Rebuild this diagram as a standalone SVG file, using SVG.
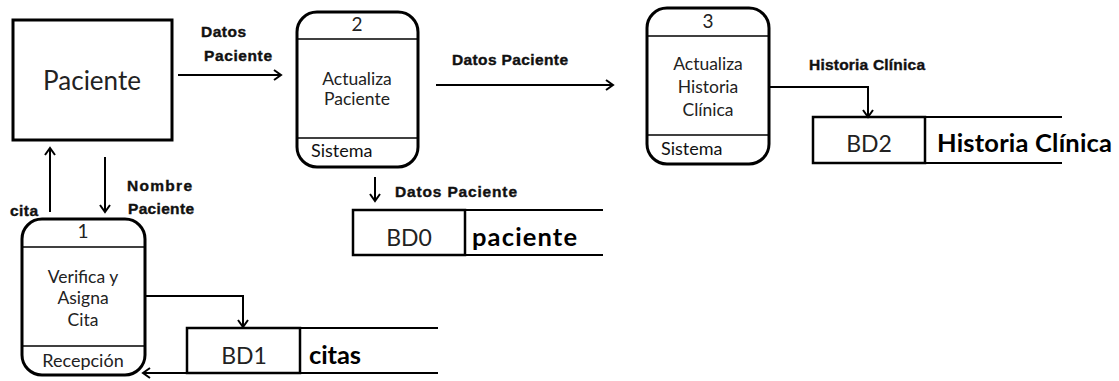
<svg xmlns="http://www.w3.org/2000/svg" width="1119" height="381" viewBox="0 0 1119 381">
<defs>
<style>
.box{fill:#fff;stroke:#000;stroke-width:3}
.thin{stroke:#000;stroke-width:1.3;fill:none}
.store{fill:#fff;stroke:#000;stroke-width:2.5}
.sline{stroke:#000;stroke-width:2;fill:none}
.flow{stroke:#000;stroke-width:2;fill:none;marker-end:url(#ah)}
.t{font-family:Lato,"Liberation Sans",sans-serif;fill:#222;text-anchor:middle}
.tl{font-family:Lato,"Liberation Sans",sans-serif;fill:#111}
.lbl{font-family:"Liberation Sans",Arial,sans-serif;font-weight:bold;font-size:15.5px;fill:#111;stroke:#111;stroke-width:0.4}
.sn{font-family:Lato,"Liberation Sans",sans-serif;font-weight:bold;fill:#000}
</style>
<marker id="ah" markerWidth="12" markerHeight="12" refX="9" refY="6" orient="auto" markerUnits="userSpaceOnUse">
<path d="M2,1 L9,6 L2,11" fill="none" stroke="#000" stroke-width="2"/>
</marker>
</defs>

<g id="paciente">
<rect class="box" x="13" y="20" width="159" height="120"/>
<text class="t" x="92" y="90" font-size="26">Paciente</text>
</g>

<g id="proceso1">
<rect class="box" x="22" y="219" width="123" height="156" rx="20"/>
<line class="thin" x1="22" y1="247" x2="145" y2="247"/>
<line class="thin" x1="22" y1="346" x2="145" y2="346"/>
<text class="t" x="83" y="238" font-size="19">1</text>
<text class="t" x="83" y="283" font-size="17.5">Verifica y</text>
<text class="t" x="83" y="304" font-size="17.5">Asigna</text>
<text class="t" x="83" y="326" font-size="17.5">Cita</text>
<text class="t" x="83" y="367" font-size="18">Recepción</text>
</g>

<g id="proceso2">
<rect class="box" x="297" y="12" width="121" height="155" rx="20"/>
<line class="thin" x1="297" y1="39" x2="418" y2="39"/>
<line class="thin" x1="297" y1="138" x2="418" y2="138"/>
<text class="t" x="357" y="31" font-size="19">2</text>
<text class="t" x="357" y="85" font-size="17.5">Actualiza</text>
<text class="t" x="357" y="105" font-size="17.5">Paciente</text>
<text class="tl" x="311" y="157" font-size="18">Sistema</text>
</g>

<g id="proceso3">
<rect class="box" x="647" y="8" width="122" height="156" rx="20"/>
<line class="thin" x1="647" y1="36" x2="769" y2="36"/>
<line class="thin" x1="647" y1="135" x2="769" y2="135"/>
<text class="t" x="708" y="28" font-size="19">3</text>
<text class="t" x="708" y="70" font-size="17.5">Actualiza</text>
<text class="t" x="708" y="93" font-size="17.5">Historia</text>
<text class="t" x="708" y="116" font-size="17.5">Clínica</text>
<text class="tl" x="661" y="155" font-size="18">Sistema</text>
</g>

<g id="bd0">
<line class="sline" x1="465" y1="210" x2="603" y2="210"/>
<line class="sline" x1="465" y1="255" x2="603" y2="255"/>
<rect class="store" x="353" y="210" width="112" height="45"/>
<text class="t" x="409" y="246" font-size="23">BD0</text>
<text class="sn" x="472" y="246" font-size="25.5" textLength="105">paciente</text>
</g>

<g id="bd1">
<line class="sline" x1="300" y1="328" x2="438" y2="328"/>
<rect class="store" x="187" y="328" width="113" height="45"/>
<text class="t" x="244" y="364" font-size="23">BD1</text>
<text class="sn" x="309" y="364" font-size="25.5" textLength="52">citas</text>
</g>

<g id="bd2">
<line class="sline" x1="925" y1="117" x2="1062" y2="117"/>
<line class="sline" x1="925" y1="163" x2="1062" y2="163"/>
<rect class="store" x="813" y="117" width="112" height="46"/>
<text class="t" x="869" y="152" font-size="23">BD2</text>
<text class="sn" x="937" y="152" font-size="25.5" textLength="175">Historia Clínica</text>
</g>

<g id="conectores">
<line class="flow" x1="178" y1="75" x2="281" y2="75"/>
<line class="flow" x1="436" y1="85" x2="613" y2="85"/>
<polyline class="flow" points="769,87 868,87 868,117"/>
<line class="flow" x1="375" y1="177" x2="375" y2="201"/>
<line class="flow" x1="105" y1="157" x2="105" y2="212"/>
<line class="flow" x1="50" y1="212" x2="50" y2="148"/>
<polyline class="flow" points="145,296 243,296 243,327"/>
<line class="flow" x1="438" y1="373" x2="143" y2="373"/>
<text class="lbl" x="201" y="37" textLength="45">Datos</text>
<text class="lbl" x="204" y="61" textLength="68">Paciente</text>
<text class="lbl" x="452" y="65" textLength="116">Datos  Paciente</text>
<text class="lbl" x="395" y="197" textLength="122">Datos  Paciente</text>
<text class="lbl" x="809" y="70" textLength="116">Historia Clínica</text>
<text class="lbl" x="127" y="191" textLength="65">Nombre</text>
<text class="lbl" x="128" y="214" textLength="66">Paciente</text>
<text class="lbl" x="10" y="216" textLength="28">cita</text>
</g>
</svg>
